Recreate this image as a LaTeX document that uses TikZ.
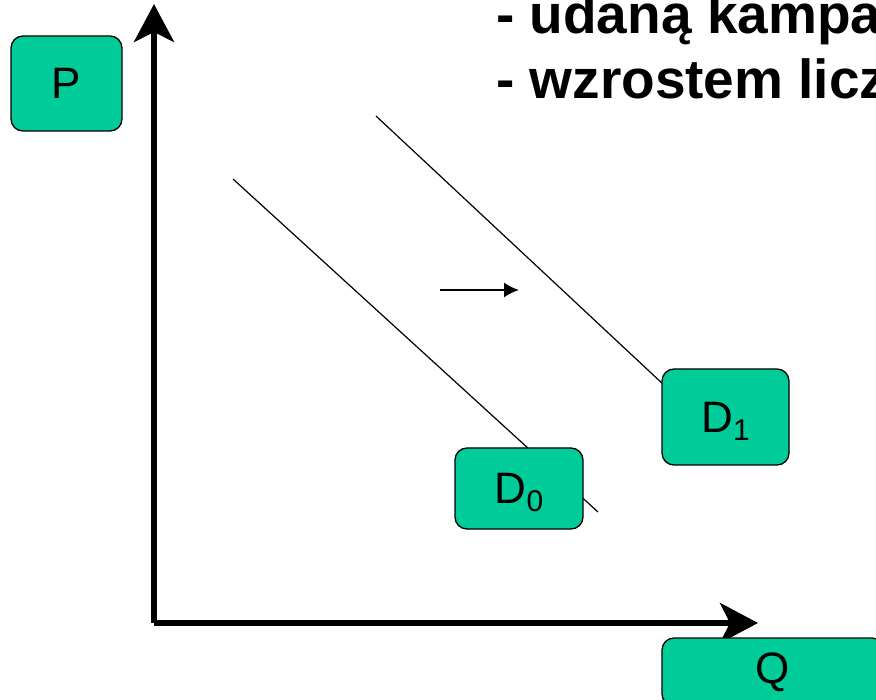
\documentclass[tikz,border=0pt]{standalone}
\usepackage{fontspec}
\setmainfont{Liberation Sans}
\usetikzlibrary{arrows.meta,positioning}
\definecolor{boxgreen}{HTML}{00CC99}

\begin{document}
\begin{tikzpicture}[x=1pt,y=-1pt,
		lbl/.style={draw,line width=1.3pt,rounded corners=12pt,fill=boxgreen,inner sep=0pt,font=\fontsize{44}{44}\selectfont},
		axis/.style={line width=6pt,-{Stealth[length=38pt,width=40pt,inset=10pt]}},
		curve/.style={line width=1.2pt},
		shiftarrow/.style={line width=2pt,-{Latex[length=15pt,width=15pt]}},
		title/.style={anchor=base west,inner sep=0pt,font=\fontsize{55}{65}\selectfont\bfseries}
		]
		\useasboundingbox (0,0) rectangle (876,700);
		\clip (0,0) rectangle (876,700);
		% axes
		\coordinate (O) at (154,623);
		\coordinate (ptop) at (154,4);
		\coordinate (qend) at (758,623);
		\draw[axis] (O) -- (ptop);
		\draw[axis] (O) -- (qend);
		
		% demand curves
		\coordinate (d0a) at (233,179);
		\coordinate (d0b) at (598,512);
		\coordinate (d1a) at (376,116);
		\coordinate (d1b) at (664,385);
		\draw[curve] (d0a) -- (d0b);
		\draw[curve] (d1a) -- (d1b);
		
		% shift of demand
		\coordinate (sha) at (440,290);
		\coordinate (shb) at (519,290);
		\draw[shiftarrow] (sha) -- (shb);
		
		% labels
		\node[lbl,minimum width=111pt,minimum height=95pt] at (66.5,83.5) (P) {P};
		\node[lbl,minimum width=222pt,minimum height=68pt] at (773,672) (Q) {Q};
		\node[lbl,minimum width=127pt,minimum height=96pt] at (725.5,417) (D1) {D\raisebox{-8pt}[0pt][0pt]{\fontsize{30}{30}\selectfont 1}};
		\node[lbl,minimum width=128pt,minimum height=81pt] at (519,488.5) (D0) {D\raisebox{-8pt}[0pt][0pt]{\fontsize{30}{30}\selectfont 0}};
		
		% text
		\node[title] at (496,34) (t1) {- udaną kampa};
		\node[title] at (496,99) (t2) {- wzrostem licz};
\end{tikzpicture}
\end{document}
